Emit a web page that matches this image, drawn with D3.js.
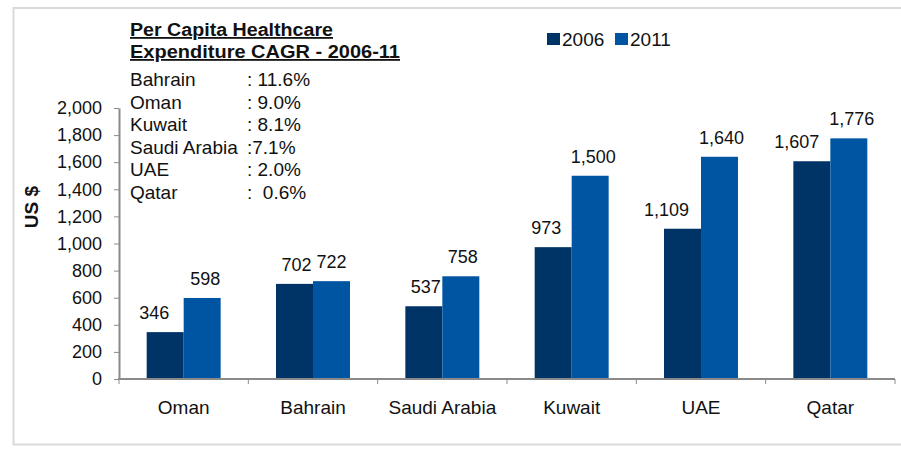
<!DOCTYPE html>
<html>
<head>
<meta charset="utf-8">
<script src="https://cdn.jsdelivr.net/npm/d3@7"></script>
<style>
  html, body { margin: 0; padding: 0; background: #fff; }
  svg { display: block; font-family: "Liberation Sans", Arial, sans-serif; }
</style>
</head>
<body>
<svg id="chart" width="901" height="449"></svg>
<script>
// ---- data ----
const categories = ["Oman", "Bahrain", "Saudi Arabia", "Kuwait", "UAE", "Qatar"];
const seriesNames = ["2006", "2011"];
const values2006 = [346, 702, 537, 973, 1109, 1607];
const values2011 = [598, 722, 758, 1500, 1640, 1776];
const yTicks = [0, 200, 400, 600, 800, 1000, 1200, 1400, 1600, 1800, 2000];
const cagrTitle = ["Per Capita Healthcare", "Expenditure CAGR - 2006-11"];
const cagrNames = ["Bahrain", "Oman", "Kuwait", "Saudi Arabia", "UAE", "Qatar"];
const cagrValues = [": 11.6%", ": 9.0%", ": 8.1%", ":7.1%", ": 2.0%", ":  0.6%"];
const yAxisTitle = "US $";

// ---- style / layout ----
const colors = { "2006": "#003366", "2011": "#0055a2" };
const axisColor = "#8a8a8a";
const svg = d3.select("#chart");

// outer frame
svg.append("path")
  .attr("d", "M905,8 H13.5 V444.5 H905")
  .attr("fill", "none").attr("stroke", "#d9d9d9").attr("stroke-width", 2);

const y = d3.scaleLinear().domain([0, 2000]).range([379, 108]);
const x0 = d3.scaleBand().domain(categories).range([119, 895]).padding(0);
const pad = x0.bandwidth() * 0.214;
const x1 = d3.scaleBand().domain(seriesNames).range([pad, x0.bandwidth() - pad]).padding(0);

const rows = categories.map((c, i) => ({ c, vals: [
  { s: "2006", v: values2006[i] }, { s: "2011", v: values2011[i] } ] }));

// bars
const g = svg.append("g");
const groups = g.selectAll("g.cat").data(rows).join("g")
  .attr("class", "cat")
  .attr("transform", d => `translate(${x0(d.c)},0)`);
groups.selectAll("rect").data(d => d.vals).join("rect")
  .attr("x", d => x1(d.s))
  .attr("width", x1.bandwidth())
  .attr("y", d => y(d.v))
  .attr("height", d => y(0) - y(d.v))
  .attr("fill", d => colors[d.s]);

// value labels
const nudge2006 = [-11, 2, 2, -7, -16, -15];
const nudge2011 = [3, 0, 2, 3, 2, 3];
groups.each(function (d, i) {
  d3.select(this).selectAll("text.val").data(d.vals).join("text")
    .attr("class", "val")
    .attr("x", v => x1(v.s) + x1.bandwidth() / 2 + (v.s === "2006" ? nudge2006[i] : nudge2011[i]))
    .attr("y", v => y(v.v) - 13)
    .attr("text-anchor", "middle")
    .attr("font-size", 18)
    .attr("fill", "#111")
    .text(v => d3.format(",")(v.v));
});

// y axis
const yAxis = svg.append("g").attr("transform", "translate(119,0)")
  .call(d3.axisLeft(y).tickValues(yTicks).tickSize(5).tickSizeOuter(0)
    .tickPadding(12).tickFormat(d3.format(",")));
yAxis.select(".domain").attr("stroke", axisColor).attr("stroke-width", 2);
yAxis.selectAll(".tick line").attr("stroke", axisColor);
yAxis.selectAll(".tick text").attr("font-size", 18).attr("fill", "#111")
  .attr("font-family", "Liberation Sans, Arial, sans-serif");

// x axis
const xAxis = svg.append("g").attr("transform", "translate(0,379)");
xAxis.append("line").attr("x1", 118).attr("x2", x0.range()[1])
  .attr("stroke", axisColor).attr("stroke-width", 2);
const bounds = categories.map(c => x0(c)).concat([x0.range()[1]]);
xAxis.selectAll("line.tk").data(bounds).join("line")
  .attr("class", "tk")
  .attr("x1", d => d).attr("x2", d => d)
  .attr("y1", 0).attr("y2", 5)
  .attr("stroke", axisColor);
xAxis.selectAll("text").data(categories).join("text")
  .attr("x", c => x0(c) + x0.bandwidth() / 2)
  .attr("y", 35)
  .attr("text-anchor", "middle")
  .attr("font-size", 19)
  .attr("fill", "#111")
  .text(c => c);

// y axis title
svg.append("text")
  .attr("transform", "translate(38,207) rotate(-90)")
  .attr("text-anchor", "middle")
  .attr("font-size", 19)
  .attr("font-weight", "bold")
  .attr("fill", "#111")
  .text(yAxisTitle);

// legend
const legend = svg.append("g");
const legX = [547, 615];
seriesNames.forEach((s, i) => {
  legend.append("rect").attr("x", legX[i]).attr("y", 33).attr("width", 13).attr("height", 12)
    .attr("fill", colors[s]);
  legend.append("text").attr("x", legX[i] + 15).attr("y", 46)
    .attr("font-size", 19).attr("fill", "#111").text(s);
});

// CAGR annotation
const ann = svg.append("g");
const titleWidths = [203, 270];
cagrTitle.forEach((t, i) => {
  ann.append("text")
    .attr("x", 130).attr("y", 36 + i * 22)
    .attr("font-size", 18).attr("font-weight", "bold")
    .attr("text-decoration", "underline")
    .attr("textLength", titleWidths[i]).attr("lengthAdjust", "spacingAndGlyphs")
    .attr("fill", "#111").text(t);
});
cagrNames.forEach((n, i) => {
  const yy = 86 + i * 22.5;
  const tn = ann.append("text").attr("x", 130).attr("y", yy)
    .attr("font-size", 19).attr("fill", "#111").text(n);
  const end = 130 + tn.node().getComputedTextLength();
  ann.append("text").attr("x", Math.max(247, end + 3)).attr("y", yy)
    .attr("font-size", 19).attr("fill", "#111").attr("xml:space", "preserve")
    .style("white-space", "pre")
    .text(cagrValues[i]);
});
</script>
</body>
</html>
